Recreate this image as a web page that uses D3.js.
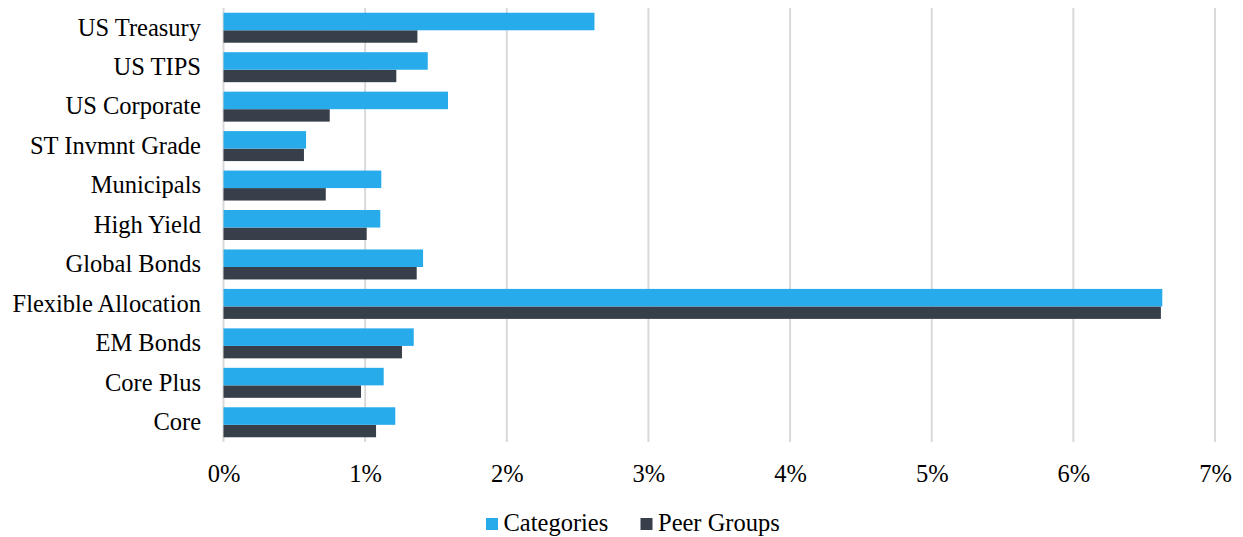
<!DOCTYPE html>
<html>
<head>
<meta charset="utf-8">
<script src="https://cdn.jsdelivr.net/npm/d3@7"></script>
<style>
  html, body { margin: 0; padding: 0; background: #fff; }
  svg { display: block; }
  text { font-family: "Liberation Serif", "DejaVu Serif", serif; fill: #000; }
</style>
</head>
<body>
<svg id="chart" width="1243" height="537"></svg>
<script>
const categories = ["US Treasury", "US TIPS", "US Corporate", "ST Invmnt Grade", "Municipals", "High Yield", "Global Bonds", "Flexible Allocation", "EM Bonds", "Core Plus", "Core"];
const seriesNames = ["Categories", "Peer Groups"];
const categoriesValues = [2.619, 1.442, 1.585, 0.583, 1.114, 1.107, 1.409, 6.628, 1.343, 1.131, 1.213];
const peerGroupsValues = [1.369, 1.220, 0.750, 0.568, 0.722, 1.011, 1.364, 6.618, 1.260, 0.971, 1.077];
const tickValues = [0, 1, 2, 3, 4, 5, 6, 7];
const tickLabels = ["0%", "1%", "2%", "3%", "4%", "5%", "6%", "7%"];
const colors = ["#27abeb", "#373f4a"];

const svg = d3.select("#chart");
const mLeft = 223.5, mRight = 1215, mTop = 8, mBottom = 442;
const fs = 24.5;

const x = d3.scaleLinear().domain([0, 7]).range([mLeft, mRight]);
const y = d3.scaleBand().domain(categories).range([mTop, mBottom]).paddingInner(0.24).paddingOuter(0.12);

// gridlines
svg.append("g").selectAll("line").data(tickValues).join("line")
  .attr("x1", d => x(d)).attr("x2", d => x(d))
  .attr("y1", mTop).attr("y2", mBottom)
  .attr("stroke", "#d9d9d9").attr("stroke-width", 2);

const data = categories.map((c, i) => ({c, a: categoriesValues[i], b: peerGroupsValues[i]}));
const bw = y.bandwidth();
const blueH = bw * 0.585;

const g = svg.append("g");
g.selectAll("rect.b").data(data).join("rect").attr("class", "b")
  .attr("x", x(0)).attr("y", d => y(d.c) + blueH)
  .attr("width", d => x(d.b) - x(0)).attr("height", bw - blueH)
  .attr("fill", colors[1]);
g.selectAll("rect.a").data(data).join("rect").attr("class", "a")
  .attr("x", x(0)).attr("y", d => y(d.c))
  .attr("width", d => x(d.a) - x(0)).attr("height", blueH)
  .attr("fill", colors[0]);

// y axis labels
const yAxis = d3.axisLeft(y).tickSize(0).tickPadding(0);
const ya = svg.append("g").attr("transform", `translate(${201},0)`).call(yAxis);
ya.select(".domain").remove();
ya.selectAll("text").attr("font-size", fs).attr("font-family", "Liberation Serif").attr("fill", "#000")
  .attr("dy", "0.32em").attr("x", 0);

// x axis labels
const xAxis = d3.axisBottom(x).tickValues(tickValues).tickFormat((d, i) => tickLabels[i]).tickSize(0).tickPadding(0);
const xa = svg.append("g").attr("transform", `translate(0,0)`).call(xAxis);
xa.select(".domain").remove();
xa.selectAll("text").attr("font-size", fs).attr("font-family", "Liberation Serif").attr("fill", "#000")
  .attr("y", 481.5).attr("dy", "0");

// legend
const legend = svg.append("g");
const items = [{n: seriesNames[0], c: colors[0], x: 486}, {n: seriesNames[1], c: colors[1], x: 640.5}];
items.forEach(it => {
  legend.append("rect").attr("x", it.x).attr("y", 518).attr("width", 12).attr("height", 12).attr("fill", it.c);
  legend.append("text").attr("x", it.x + 17.5).attr("y", 531)
    .attr("font-size", fs).text(it.n);
});
</script>
</body>
</html>
